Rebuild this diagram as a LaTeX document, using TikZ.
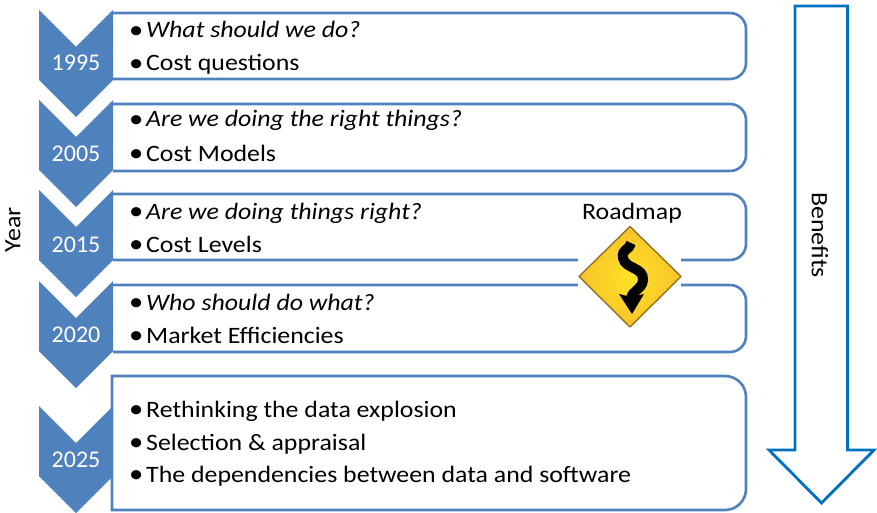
\documentclass[tikz,border=0pt]{standalone}
\usepackage{fontspec}
\setmainfont{Carlito}
\newfontfamily\widefont[FakeStretch=1.1]{Carlito}
\definecolor{chev}{HTML}{4F81BD}
\definecolor{bigarrow}{HTML}{0070C0}
\definecolor{signedge}{HTML}{8F7425}
\definecolor{signin}{HTML}{FFE227}
\definecolor{signout}{HTML}{F7C22A}
\newcommand{\bulletline}[1]{\makebox[17pt][l]{\raisebox{-0.5pt}{\fontsize{26}{26}\selectfont •}}#1}
\tikzset{
  chevron/.style={fill=chev,draw=none},
  itembox/.style={draw=chev,line width=2.6pt},
  itemtext/.style={anchor=base west,inner sep=0pt,font=\widefont\fontsize{23.5}{25}\selectfont,text=black},
  yeartext/.style={anchor=center,inner sep=0pt,font=\fontsize{24}{25}\selectfont,text=white},
  sidetext/.style={anchor=center,inner sep=0pt,font=\widefont\fontsize{23.5}{25}\selectfont,text=black},
}
\begin{document}
\begin{tikzpicture}[x=1pt,y=-1pt]
\useasboundingbox (0,0) rectangle (877,513);
% chevrons
\foreach \t in {10,100,190,281,406}{
  \fill[chevron] (39,\t) -- (76,\t+37) -- (113,\t) -- (113,\t+70) -- (76,\t+107) -- (39,\t+70) -- cycle;
}
% boxes
\foreach \t/\b in {13/79,104/171,194/260,285/352}{
  \draw[itembox,rounded corners=16pt] (113,\t) -- (746,\t) -- (746,\b) -- (113,\b);
}
\draw[itembox,fill=white,rounded corners=0pt] (112,376) [rounded corners=0pt] -- (700,376) [rounded corners=21pt] -- (746,376) -- (746,510) [rounded corners=0pt] -- (112,510) -- cycle;
% year labels
\node[yeartext] (y1) at (76,63) {1995};
\node[yeartext] (y2) at (76,154) {2005};
\node[yeartext] (y3) at (76,245) {2015};
\node[yeartext] (y4) at (76,335) {2020};
\node[yeartext] (y5) at (76,460) {2025};
% texts
\node[itemtext] (t1a) at (129,38) {\bulletline{\textit{What should we do?}}};
\node[itemtext] (t1b) at (129,71) {\bulletline{Cost questions}};
\node[itemtext] (t2a) at (129,127) {\bulletline{\textit{Are we doing the right things?}}};
\node[itemtext] (t2b) at (129,161) {\bulletline{Cost Models}};
\node[itemtext] (t3a) at (129,219) {\bulletline{\textit{Are we doing things right?}}};
\node[itemtext] (t3b) at (129,252) {\bulletline{Cost Levels}};
\node[itemtext] (t4a) at (129,310) {\bulletline{\textit{Who should do what?}}};
\node[itemtext] (t4b) at (129,343) {\bulletline{Market Efficiencies}};
\node[itemtext] (t5a) at (129,417) {\bulletline{Rethinking the data explosion}};
\node[itemtext] (t5b) at (129,450) {\bulletline{Selection \& appraisal}};
\node[itemtext] (t5c) at (129,482) {\bulletline{The dependencies between data and software}};
\node[sidetext,rotate=90] (year) at (13,230) {Year};
\node[sidetext,rotate=-90] (benefits) at (820,235) {Benefits};
\node[sidetext] (roadmap) at (632,213) {Roadmap};
% big arrow
\draw[bigarrow,line width=2.8pt,miter limit=10] (795,6) -- (847.5,6) -- (847.5,450) -- (874,450) -- (821.5,503) -- (769,450) -- (795,450) -- cycle;
% sign
\fill[white] (577.5,250) rectangle (681,296);
\shade[inner color=signin,outer color=signout,draw=signedge,line width=1.4pt,line join=round]
  (630,226.5) -- (681,276.5) -- (630,327) -- (579,276.5) -- cycle;
\draw[black,line width=10pt] (631,243) .. controls (630,250) and (621,249) .. (623,258) .. controls (625,269) and (644,267) .. (643,280) .. controls (642,290) and (632,290) .. (631,299);
\fill[black] (619,294) -- (631,297) -- (644,294) -- (632,314) -- cycle;
\end{tikzpicture}
\end{document}
